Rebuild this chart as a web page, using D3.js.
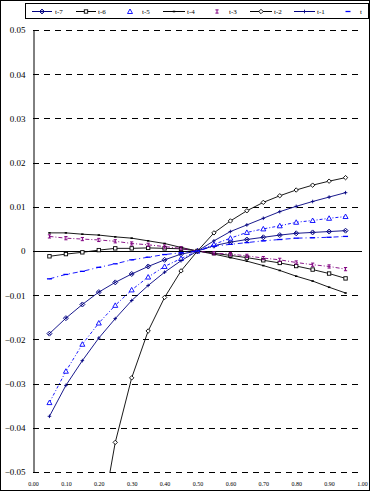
<!DOCTYPE html>
<html><head><meta charset="utf-8">
<script src="https://cdn.jsdelivr.net/npm/d3@7/dist/d3.min.js"></script>
<style>body{margin:0;background:#fff}svg{display:block}</style>
</head><body>
<script>
const xs = [0.05,0.10,0.15,0.20,0.25,0.30,0.35,0.40,0.45,0.50,0.55,0.60,0.65,0.70,0.75,0.80,0.85,0.90,0.95];
const seriesNames = ["t-7","t-6","t-5","t-4","t-3","t-2","t-1","t"];
const t7 = [-0.0187,-0.0152,-0.0121,-0.0093,-0.0071,-0.0052,-0.0035,-0.0020,-0.0007,0,0.0012,0.0020,0.0026,0.0031,0.0036,0.0040,0.0042,0.0044,0.0046];
const t6 = [-0.0012,-0.0007,-0.0003,0.0002,0.0006,0.0006,0.0007,0.0006,0.0005,0,-0.0005,-0.0010,-0.0015,-0.0021,-0.0027,-0.0034,-0.0042,-0.0051,-0.0062];
const t5 = [-0.0343,-0.0272,-0.0211,-0.0163,-0.0123,-0.0088,-0.0059,-0.0035,-0.0017,0,0.0015,0.0029,0.0042,0.0050,0.0057,0.0065,0.0069,0.0074,0.0078];
const t4 = [0.0041,0.0041,0.0038,0.0036,0.0032,0.0029,0.0023,0.0017,0.0008,0,-0.0007,-0.0015,-0.0023,-0.0033,-0.0044,-0.0057,-0.0068,-0.0082,-0.0095];
const t3 = [0.0033,0.0029,0.0027,0.0025,0.0022,0.0017,0.0014,0.0010,0.0006,0,-0.0005,-0.0007,-0.0011,-0.0016,-0.0020,-0.0026,-0.0031,-0.0035,-0.0041];
const t2 = [null,null,null,-0.0643,-0.0433,-0.0287,-0.0181,-0.0105,-0.0045,0,0.0041,0.0068,0.0091,0.0110,0.0125,0.0138,0.0149,0.0158,0.0166];
const t1 = [-0.0374,-0.0304,-0.0248,-0.0197,-0.0153,-0.0112,-0.0078,-0.0048,-0.0022,0,0.0023,0.0044,0.0059,0.0074,0.0089,0.0101,0.0112,0.0122,0.0132];
const t0 = [-0.0063,-0.0053,-0.0046,-0.0037,-0.0029,-0.0020,-0.0014,-0.0008,-0.0004,0,0.0011,0.0015,0.0019,0.0023,0.0026,0.0029,0.0030,0.0031,0.0033];
const yTicks = [0.05,0.04,0.03,0.02,0.01,0,-0.01,-0.02,-0.03,-0.04,-0.05];
const xTicks = [0,0.1,0.2,0.3,0.4,0.5,0.6,0.7,0.8,0.9,1.0];

const styles = [
  {data:t7, color:"#000080", dash:null, marker:"diamondX"},
  {data:t6, color:"#000000", dash:null, marker:"square"},
  {data:t5, color:"#0000ff", dash:"3,2,1,2", marker:"triangle"},
  {data:t4, color:"#000000", dash:null, marker:"dot"},
  {data:t3, color:"#800080", dash:"4,2,1,2", marker:"x"},
  {data:t2, color:"#000000", dash:null, marker:"diamond"},
  {data:t1, color:"#000080", dash:null, marker:"plus"},
  {data:t0, color:"#0000ff", dash:"5,3,1,3", marker:"dash"}
];

const W=370,H=491;
const svg=d3.select("body").append("svg").attr("width",W).attr("height",H);
svg.append("rect").attr("x",0.5).attr("y",0.5).attr("width",W-1).attr("height",H-1).attr("fill","#fff").attr("stroke","#000");

const x=d3.scaleLinear().domain([0,1]).range([33,362]);
const y=d3.scaleLinear().domain([-0.05,0.05]).range([472,30]);

svg.append("defs").append("clipPath").attr("id","clip").append("rect")
  .attr("x",33).attr("y",29).attr("width",335).attr("height",444);

svg.append("g").selectAll("line").data(yTicks.filter(d=>d!==0)).join("line")
  .attr("x1",33).attr("x2",362).attr("y1",d=>Math.round(y(d))+0.5).attr("y2",d=>Math.round(y(d))+0.5)
  .attr("stroke","#000").attr("stroke-dasharray","6,5");

const yAxis=svg.append("g").attr("transform","translate(33.5,0)")
  .call(d3.axisLeft(y).tickValues(yTicks).tickSize(0).tickPadding(8).tickFormat(d=>d===0?"0":d3.format(".2f")(d)));
yAxis.select(".domain").attr("stroke","#000");
yAxis.selectAll("text").attr("font-family","'Liberation Serif',serif").attr("font-size","9px").attr("fill","#000");

svg.append("line").attr("x1",33).attr("x2",362).attr("y1",Math.round(y(0))+0.5).attr("y2",Math.round(y(0))+0.5).attr("stroke","#000");

const xAxis=svg.append("g").attr("transform","translate(0,480)")
  .call(d3.axisBottom(x).tickValues(xTicks).tickSize(0).tickPadding(2).tickFormat(d3.format(".2f")));
xAxis.select(".domain").remove();
xAxis.selectAll("text").attr("font-family","'Liberation Serif',serif").attr("font-size","6px").attr("fill","#000");

function drawMarker(g,type,color){
  switch(type){
    case "diamondX":
      g.append("path").attr("d","M0,-2.5L2.5,0L0,2.5L-2.5,0Z M-1.2,-1.2L1.2,1.2 M-1.2,1.2L1.2,-1.2").attr("fill","none").attr("stroke",color).attr("stroke-width",0.9);break;
    case "square":
      g.append("rect").attr("x",-1.7).attr("y",-1.7).attr("width",3.4).attr("height",3.4).attr("fill","#fff").attr("stroke",color).attr("stroke-width",0.9);break;
    case "triangle":
      g.append("path").attr("d","M0,-2.5L2.5,2L-2.5,2Z").attr("fill","#fff").attr("stroke",color).attr("stroke-width",0.9);break;
    case "dot":
      g.append("rect").attr("x",-1.2).attr("y",-0.8).attr("width",2.4).attr("height",1.6).attr("fill",color);break;
    case "x":
      g.append("path").attr("d","M-1.6,-1.6L1.6,-1.6M0,-1.6L0,1.6M-1.6,1.6L1.6,1.6").attr("stroke",color).attr("stroke-width",1);break;
    case "diamond":
      g.append("path").attr("d","M0,-2.2L2.2,0L0,2.2L-2.2,0Z").attr("fill","#fff").attr("stroke",color).attr("stroke-width",0.9);break;
    case "plus":
      g.append("path").attr("d","M-1.8,0L1.8,0M0,-1.8L0,1.8").attr("stroke",color).attr("stroke-width",0.9);break;
    case "dash":
      g.append("path").attr("d","M-2.5,0L2.5,0").attr("stroke",color).attr("stroke-width",1.3);break;
  }
}

const plot=svg.append("g").attr("clip-path","url(#clip)");
const line=d3.line().defined(d=>d[1]!==null).x(d=>x(d[0])).y(d=>y(d[1]));
styles.forEach(s=>{
  const pts=xs.map((v,i)=>[v,s.data[i]]);
  plot.append("path").datum(pts).attr("d",line).attr("fill","none").attr("stroke",s.color)
    .attr("stroke-width",0.9).attr("stroke-dasharray",s.dash);
  pts.filter(p=>p[1]!==null).forEach(p=>{
    const g=plot.append("g").attr("transform",`translate(${x(p[0])},${y(p[1])})`);
    drawMarker(g,s.marker,s.color);
  });
});

const leg=svg.append("g");
leg.append("rect").attr("x",25.5).attr("y",3.5).attr("width",343).attr("height",15).attr("fill","#fff").attr("stroke","#000");
const legItems=[
  {x1:32,x2:52,tx:55,line:true},
  {x1:76,x2:96,tx:98,line:true},
  {x1:130,x2:130,tx:142,line:false},
  {x1:163,x2:185,tx:187,line:true},
  {x1:217,x2:217,tx:229,line:false},
  {x1:250,x2:272,tx:274,line:true},
  {x1:294,x2:315,tx:317,line:true},
  {x1:348,x2:348,tx:360,line:false}
];
legItems.forEach((it,i)=>{
  const s=styles[i];
  if(it.line) leg.append("line").attr("x1",it.x1).attr("x2",it.x2).attr("y1",11.5).attr("y2",11.5).attr("stroke",s.color);
  const g=leg.append("g").attr("transform",`translate(${(it.x1+it.x2)/2},11.5)`);
  drawMarker(g,s.marker,s.color);
  leg.append("text").attr("x",it.tx).attr("y",14).text(seriesNames[i])
    .attr("font-family","'Liberation Serif',serif").attr("font-size","7px").attr("fill","#000");
});
</script>
</body></html>
